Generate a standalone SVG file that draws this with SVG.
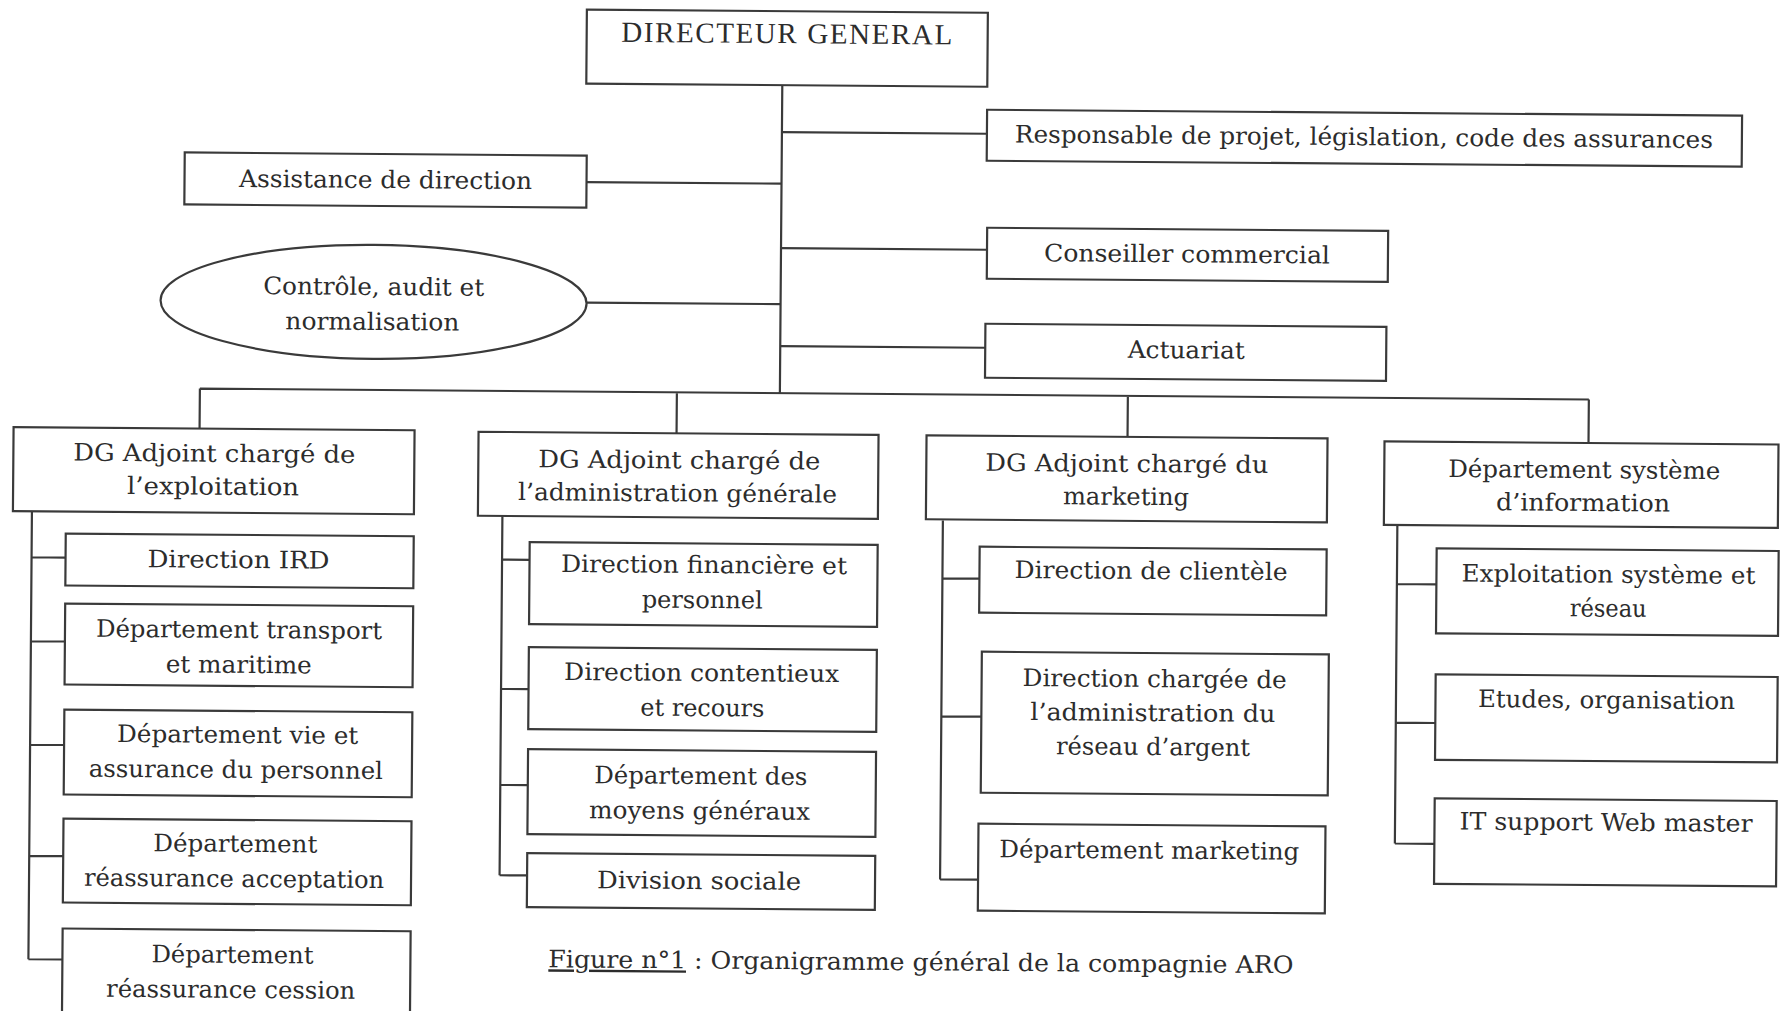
<svg xmlns="http://www.w3.org/2000/svg" width="1781" height="1011" viewBox="0 0 1781 1011">
<style>
.box{fill:#fff;stroke:#3a3a3a;stroke-width:2.2}
.ln{fill:none;stroke:#3a3a3a;stroke-width:2.2}
text{font-family:"DejaVu Serif","Liberation Serif",serif;font-size:24px;fill:#2c2c2c;text-anchor:middle}
.dg{font-family:"Liberation Serif","Times New Roman",serif;font-size:29px}
</style>
<rect width="1781" height="1011" fill="#fff"/>
<g transform="rotate(0.45 890 505)">
<g id="connectors" class="ln">
<path d="M779 86V394M199 394H1588M199 394V434M676 394V435M1127 394V435M1588 394V437.5"/>
<path d="M779 133H984M584 184.5H779M779 249H985M585 305H779M779 347H984"/>
<path d="M32 518V966M32 564H66M32 648H66M32 751.5H66M32 862.6H66M32 966H66"/>
<path d="M502.5 519V878.3M502.5 562.7H530M502.5 692H530M502.5 788H530M502.5 878.3H530"/>
<path d="M943 520V879M943 578H980M943 716H983M943 879H981"/>
<path d="M1397.5 521V839.5M1397.5 580H1437M1397.5 718.7H1437M1397.5 839.5H1437"/>
</g>
<g id="dg"><rect class="box" x="583" y="12" width="401" height="74"/><text class="dg" x="783" y="44" textLength="331" lengthAdjust="spacing">DIRECTEUR GENERAL</text></g>
<g id="responsable"><rect class="box" x="984" y="109" width="755" height="51"/><text x="1361" y="141.5" textLength="698" lengthAdjust="spacingAndGlyphs">Responsable de projet, législation, code des assurances</text></g>
<g id="assistance"><rect class="box" x="182" y="158" width="402" height="52"/><text x="383" y="192" textLength="293" lengthAdjust="spacingAndGlyphs">Assistance de direction</text></g>
<g id="controle"><ellipse class="box" cx="372" cy="306" rx="213" ry="57"/><text x="372" y="299" textLength="221" lengthAdjust="spacingAndGlyphs">Contrôle, audit et</text><text x="371" y="334" textLength="174" lengthAdjust="spacingAndGlyphs">normalisation</text></g>
<g id="conseiller"><rect class="box" x="985" y="227" width="401" height="51"/><text x="1185" y="260" textLength="286" lengthAdjust="spacingAndGlyphs">Conseiller commercial</text></g>
<g id="actuariat"><rect class="box" x="984" y="323" width="401" height="54"/><text x="1185" y="356" textLength="117" lengthAdjust="spacingAndGlyphs">Actuariat</text></g>
<g id="dga_exploitation"><rect class="box" x="13" y="434" width="401" height="84"/><text x="214" y="467" textLength="282" lengthAdjust="spacingAndGlyphs">DG Adjoint chargé de</text><text x="213" y="500" textLength="172" lengthAdjust="spacingAndGlyphs">l’exploitation</text></g>
<g id="dir_ird"><rect class="box" x="66" y="540" width="348" height="52"/><text x="239" y="573" textLength="182" lengthAdjust="spacingAndGlyphs">Direction IRD</text></g>
<g id="dep_transport"><rect class="box" x="66" y="610" width="348" height="81"/><text x="240" y="643" textLength="286" lengthAdjust="spacingAndGlyphs">Département transport</text><text x="240" y="678" textLength="146" lengthAdjust="spacingAndGlyphs">et maritime</text></g>
<g id="dep_vie"><rect class="box" x="66" y="716" width="348" height="85"/><text x="239.5" y="748" textLength="241" lengthAdjust="spacingAndGlyphs">Département vie et</text><text x="238" y="783" textLength="294" lengthAdjust="spacingAndGlyphs">assurance du personnel</text></g>
<g id="dep_acceptation"><rect class="box" x="66" y="825" width="348" height="84"/><text x="238" y="857" textLength="164" lengthAdjust="spacingAndGlyphs">Département</text><text x="237" y="892" textLength="300" lengthAdjust="spacingAndGlyphs">réassurance acceptation</text></g>
<g id="dep_cession"><rect class="box" x="66" y="935" width="348" height="90"/><text x="236" y="968" textLength="162" lengthAdjust="spacingAndGlyphs">Département</text><text x="234.5" y="1003" textLength="249" lengthAdjust="spacingAndGlyphs">réassurance cession</text></g>
<g id="dga_admin"><rect class="box" x="478" y="435" width="400" height="84"/><text x="679" y="470" textLength="282" lengthAdjust="spacingAndGlyphs">DG Adjoint chargé de</text><text x="677.5" y="503" textLength="319" lengthAdjust="spacingAndGlyphs">l’administration générale</text></g>
<g id="dir_fin"><rect class="box" x="530" y="545" width="348" height="82"/><text x="704.5" y="574.5" textLength="286" lengthAdjust="spacingAndGlyphs">Direction financière et</text><text x="703" y="609.5" textLength="121" lengthAdjust="spacingAndGlyphs">personnel</text></g>
<g id="dir_contentieux"><rect class="box" x="530" y="650" width="348" height="82"/><text x="703" y="682.5" textLength="275" lengthAdjust="spacingAndGlyphs">Direction contentieux</text><text x="704" y="717.5" textLength="124" lengthAdjust="spacingAndGlyphs">et recours</text></g>
<g id="dep_moyens"><rect class="box" x="530" y="752" width="348" height="85"/><text x="703" y="785.5" textLength="213" lengthAdjust="spacingAndGlyphs">Département des</text><text x="702" y="820.5" textLength="221" lengthAdjust="spacingAndGlyphs">moyens généraux</text></g>
<g id="div_sociale"><rect class="box" x="530" y="856" width="348" height="54"/><text x="702" y="890.5" textLength="204" lengthAdjust="spacingAndGlyphs">Division sociale</text></g>
<g id="dga_marketing"><rect class="box" x="926" y="435" width="401" height="84"/><text x="1126.5" y="470" textLength="283" lengthAdjust="spacingAndGlyphs">DG Adjoint chargé du</text><text x="1126" y="503" textLength="126" lengthAdjust="spacingAndGlyphs">marketing</text></g>
<g id="dir_clientele"><rect class="box" x="980" y="546" width="347" height="66"/><text x="1151.5" y="577" textLength="273" lengthAdjust="spacingAndGlyphs">Direction de clientèle</text></g>
<g id="dir_reseau"><rect class="box" x="983" y="651" width="347" height="141"/><text x="1156" y="685" textLength="264" lengthAdjust="spacingAndGlyphs">Direction chargée de</text><text x="1154.5" y="719" textLength="245" lengthAdjust="spacingAndGlyphs">l’administration du</text><text x="1155" y="753" textLength="194" lengthAdjust="spacingAndGlyphs">réseau d’argent</text></g>
<g id="dep_marketing"><rect class="box" x="981" y="823" width="347" height="87"/><text x="1152" y="856.5" textLength="300" lengthAdjust="spacingAndGlyphs">Département marketing</text></g>
<g id="dep_si"><rect class="box" x="1384" y="437.5" width="394" height="83.5"/><text x="1584" y="472.5" textLength="272" lengthAdjust="spacingAndGlyphs">Département système</text><text x="1583" y="505.5" textLength="174" lengthAdjust="spacingAndGlyphs">d’information</text></g>
<g id="exploit_sys"><rect class="box" x="1437" y="544" width="342" height="85"/><text x="1609" y="577" textLength="294" lengthAdjust="spacingAndGlyphs">Exploitation système et</text><text x="1609" y="611" textLength="77" lengthAdjust="spacingAndGlyphs">réseau</text></g>
<g id="etudes"><rect class="box" x="1437" y="670" width="342" height="85.5"/><text x="1608" y="702.5" textLength="257" lengthAdjust="spacingAndGlyphs">Etudes, organisation</text></g>
<g id="it_support"><rect class="box" x="1437" y="794" width="342" height="85.5"/><text x="1608.5" y="825" textLength="293" lengthAdjust="spacingAndGlyphs">IT support Web master</text></g>
<g id="caption"><text x="552" y="970" style="text-anchor:start" textLength="745" lengthAdjust="spacingAndGlyphs"><tspan text-decoration="underline">Figure n°1</tspan> : Organigramme général de la compagnie ARO</text></g>
</g>
</svg>
